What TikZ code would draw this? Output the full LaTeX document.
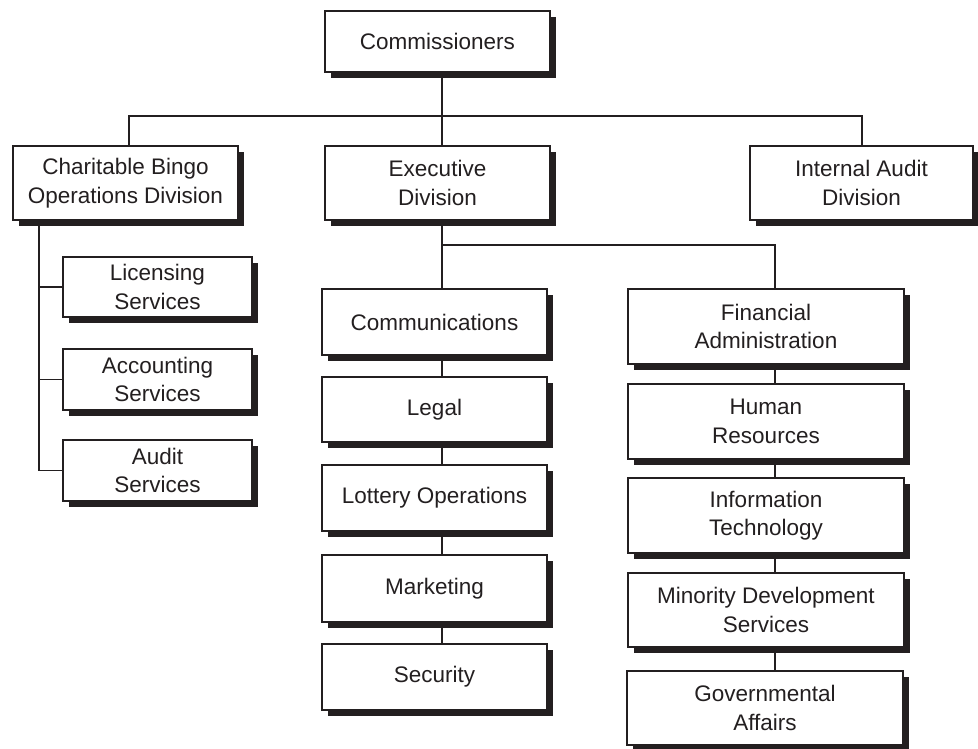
\documentclass[tikz,border=0pt]{standalone}
\usepackage{fontspec}
\setmainfont{Liberation Sans}
\usetikzlibrary{shadows,calc}
\definecolor{ink}{HTML}{231F20}
\begin{document}
\begin{tikzpicture}[x=1pt,y=-1pt,
  box/.style={draw=ink, line width=1.6pt, fill=white, align=center, inner sep=0pt, text=ink,
    font=\fontsize{22.5}{28.5}\selectfont,
    drop shadow={shadow xshift=6pt, shadow yshift=-6pt, fill=ink, draw=none, opacity=1}},
  sz/.style 2 args={minimum width=#1pt, minimum height=#2pt},
  link/.style={draw=ink, line width=1.8pt}]
\useasboundingbox (0,0) rectangle (978,749);
% top levels
\node[box, sz={225}{61}] (comm) at (437.5,41.5) {Commissioners};
\node[box, sz={225}{74}] (bingo) at (125.5,183) {Charitable Bingo\\Operations Division};
\node[box, sz={225}{74}] (exec) at (437.5,183) {Executive\\Division};
\node[box, sz={223}{74}] (audit) at (861.5,183) {Internal Audit\\Division};
% bingo children
\node[box, sz={189}{60}] (lic) at (157.5,287) {Licensing\\Services};
\node[box, sz={189}{61}] (acc) at (157.5,379.5) {Accounting\\Services};
\node[box, sz={189}{61}] (aud) at (157.5,470.5) {Audit\\Services};
% centre column
\node[box, sz={225}{66}] (comms) at (434.5,322) {Communications};
\node[box, sz={225}{65}] (legal) at (434.5,409.5) {Legal};
\node[box, sz={225}{66}] (lott) at (434.5,498) {Lottery Operations};
\node[box, sz={225}{67}] (mkt) at (434.5,588.5) {Marketing};
\node[box, sz={225}{66}] (sec) at (434.5,677) {Security};
% right column
\node[box, sz={276}{75}] (fin) at (766,326.5) {Financial\\Administration};
\node[box, sz={276}{75}] (hr) at (766,421.5) {Human\\Resources};
\node[box, sz={276}{75}] (it) at (766,515.5) {Information\\Technology};
\node[box, sz={276}{74}] (min) at (766,610) {Minority Development\\Services};
\node[box, sz={276}{74}] (gov) at (765,708) {Governmental\\Affairs};
% helper coordinates
\coordinate (cx) at (442,0);
\coordinate (rx) at (775,0);
\coordinate (lx) at (39,0);
\coordinate (bx) at (129,116);
\coordinate (ax) at (862,116);
\coordinate (ey) at (0,245);
% connectors
\draw[link] (comm.south -| cx) -- (exec.north -| cx);
\draw[link] (bingo.north -| bx) -- (bx) -- (ax) -- (audit.north -| ax);
\draw[link] (exec.south -| cx) -- (comms.north -| cx);
\draw[link] (ey -| cx) -- (ey -| rx) -- (fin.north -| rx);
\draw[link] (bingo.south -| lx) |- (aud.west);
\draw[link] (lic.west -| lx) -- (lic.west);
\draw[link] (acc.west -| lx) -- (acc.west);
\draw[link] (comms.south -| cx) -- (legal.north -| cx);
\draw[link] (legal.south -| cx) -- (lott.north -| cx);
\draw[link] (lott.south -| cx) -- (mkt.north -| cx);
\draw[link] (mkt.south -| cx) -- (sec.north -| cx);
\draw[link] (fin.south -| rx) -- (hr.north -| rx);
\draw[link] (hr.south -| rx) -- (it.north -| rx);
\draw[link] (it.south -| rx) -- (min.north -| rx);
\draw[link] (min.south -| rx) -- (gov.north -| rx);
\end{tikzpicture}
\end{document}
